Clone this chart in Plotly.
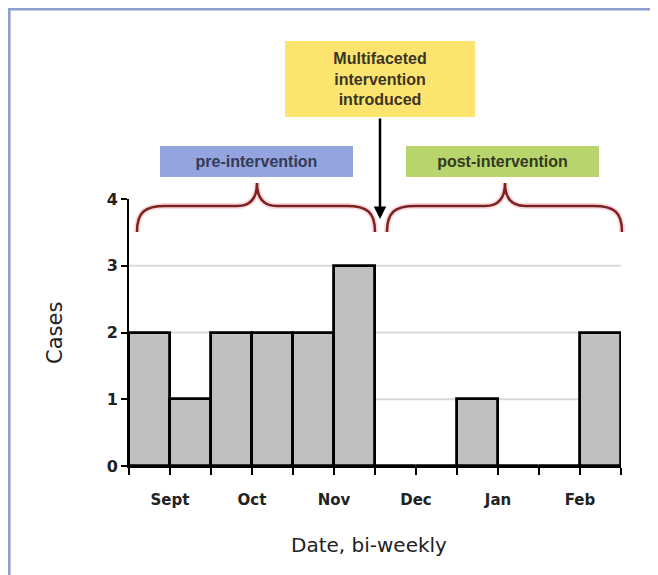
import plotly.graph_objects as go

# ---- data ----
slots = list(range(12))                      # bi-weekly periods
cases = [2, 1, 2, 2, 2, 3, 0, 0, 1, 0, 0, 2]
month_labels = ["Sept", "Oct", "Nov", "Dec", "Jan", "Feb"]
y_ticks = [0, 1, 2, 3, 4]

OFF = 8  # page body margin
W, H = 658 - OFF, 575 - OFF
# target page coordinates of the plot area: x 129..621, y 199..466
L = 129 - OFF
T = 199 - OFF
R = W - (621 - OFF)
B = H - (466 - OFF)
PW, PH = W - L - R, H - T - B

def px_x(p):
    """page pixel x -> paper fraction"""
    return (p - OFF - L) / PW

def px_y(p):
    """page pixel y -> paper fraction"""
    return (H - B - (p - OFF)) / PH

# tick positions at slot boundaries, month labels every second boundary
tickvals = [s - 0.5 for s in slots] + [slots[-1] + 0.5]
ticktext = []
for i in range(len(tickvals)):
    ticktext.append(month_labels[i // 2] if i % 2 == 1 else "")

fig = go.Figure()
fig.add_trace(go.Bar(
    x=slots, y=cases, width=1,
    marker=dict(color="#c0c0c0", line=dict(color="black", width=2.8)),
    showlegend=False, hoverinfo="skip",
))

shapes = []
# background panel border (left and top)
shapes.append(dict(type="rect", xref="paper", yref="paper",
                   x0=px_x(9.3), x1=px_x(760), y0=px_y(9.3), y1=px_y(700),
                   fillcolor="white", line=dict(color="#8e9fcd", width=2.6),
                   layer="below"))
# gridlines
for g in y_ticks[1:-1]:
    shapes.append(dict(type="line", xref="x", yref="y",
                       x0=tickvals[0], x1=tickvals[-1], y0=g, y1=g,
                       line=dict(color="#dadada", width=2), layer="below"))

def brace(x0, x1, xm, yend, yh, ytip):
    def P(x, y):
        return f"{px_x(x):.5f},{px_y(y):.5f}"
    path = (f"M {P(x0, yend)} C {P(x0, yh + 6)} {P(x0 + 8, yh)} {P(x0 + 28, yh)} "
            f"L {P(xm - 20, yh)} C {P(xm - 8, yh)} {P(xm, yh - 6)} {P(xm, ytip)} "
            f"C {P(xm, yh - 6)} {P(xm + 8, yh)} {P(xm + 20, yh)} "
            f"L {P(x1 - 28, yh)} C {P(x1 - 8, yh)} {P(x1, yh + 6)} {P(x1, yend)}")
    return path

for (bx0, bx1, bxm) in [(137, 375, 257), (387, 622, 505)]:
    p = brace(bx0, bx1, bxm, 232, 206, 183)
    shapes.append(dict(type="path", xref="paper", yref="paper", path=p,
                       line=dict(color="rgba(240,150,160,0.35)", width=6)))
    shapes.append(dict(type="path", xref="paper", yref="paper", path=p,
                       line=dict(color="#7d2222", width=2.5)))

fig.update_layout(shapes=shapes)

box_font = "Liberation Sans, Arial, sans-serif"
fig.add_annotation(xref="paper", yref="paper", x=px_x(380), y=px_y(79),
                   text="<b>Multifaceted<br>intervention<br>introduced</b>",
                   showarrow=False, width=190, height=76, bgcolor="#fce46e",
                   borderpad=0, borderwidth=0, xanchor="center", yanchor="middle",
                   font=dict(family=box_font, size=16, color="#3a3526"))
fig.add_annotation(xref="paper", yref="paper", x=px_x(256), y=px_y(161.5),
                   text="<b>pre-intervention</b>",
                   showarrow=False, width=193, height=31, bgcolor="#93a4df",
                   borderpad=0, borderwidth=0, xanchor="center", yanchor="middle",
                   font=dict(family=box_font, size=16, color="#353a55"))
fig.add_annotation(xref="paper", yref="paper", x=px_x(502), y=px_y(161.5),
                   text="<b>post-intervention</b>",
                   showarrow=False, width=193, height=31, bgcolor="#b7d56c",
                   borderpad=0, borderwidth=0, xanchor="center", yanchor="middle",
                   font=dict(family=box_font, size=16, color="#34391f"))
# arrow
fig.add_annotation(xref="paper", yref="paper", x=px_x(380), y=px_y(219),
                   axref="pixel", ayref="pixel", ax=0, ay=-(219 - 117),
                   text="", showarrow=True, arrowhead=2, arrowsize=1,
                   arrowwidth=2.5, arrowcolor="black")
# axis titles
fig.add_annotation(xref="paper", yref="paper", x=px_x(55), y=px_y(333),
                   text="Cases", textangle=-90, showarrow=False,
                   xanchor="center", yanchor="middle",
                   font=dict(family="DejaVu Sans", size=21, color="#222"))
fig.add_annotation(xref="paper", yref="paper", x=px_x(369), y=px_y(545),
                   text="Date, bi-weekly", showarrow=False,
                   xanchor="center", yanchor="middle",
                   font=dict(family="DejaVu Sans", size=20, color="#222"))

fig.update_xaxes(range=[tickvals[0], tickvals[-1]], tickmode="array",
                 tickvals=tickvals, ticktext=ticktext, showgrid=False,
                 zeroline=False, showline=True, linecolor="black", linewidth=2,
                 ticks="outside", ticklen=7, tickwidth=2, tickcolor="black",
                 ticklabelstandoff=12,
                 tickfont=dict(family="DejaVu Sans", size=15, color="#222",
                               weight="bold"),
                 fixedrange=True)
fig.update_yaxes(range=[0, 4], tickmode="array", tickvals=y_ticks,
                 showgrid=False, zeroline=False, showline=True,
                 linecolor="black", linewidth=2, ticks="outside", ticklen=6,
                 tickwidth=2, tickcolor="black",
                 tickfont=dict(family="DejaVu Sans", size=16, color="#222",
                               weight="bold"),
                 fixedrange=True)

fig.update_layout(width=W, height=H, margin=dict(l=L, r=R, t=T, b=B),
                  paper_bgcolor="white", plot_bgcolor="rgba(0,0,0,0)",
                  bargap=0, showlegend=False)

fig.write_html("out.html")
